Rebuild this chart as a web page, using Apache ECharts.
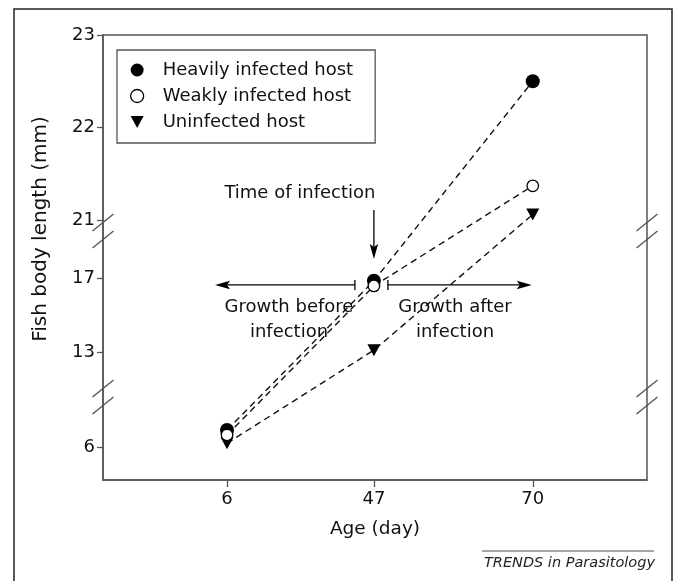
<!DOCTYPE html>
<html><head><meta charset="utf-8">
<script src="https://cdn.jsdelivr.net/npm/echarts@6/dist/echarts.min.js"></script>
<style>html,body{margin:0;padding:0;background:#fff}#c{width:676px;height:581px}</style>
</head><body><div id="c"></div>
<script>
// ---- data ----
const ages = [6, 47, 70];
const heavily = [6.92, 16.85, 22.5];
const weakly = [6.65, 16.57, 21.37];
const uninfected = [6.2, 13.1, 21.06];
const yTicks = [6, 13, 17, 21, 22, 23];
const seriesNames = ['Heavily infected host', 'Weakly infected host', 'Uninfected host'];

// ---- broken-axis scale (layout) ----
const X_SLOTS = [22.8, 49.8, 79.0];          // axis position (0-100) of each age
const Y_PIECES = [                           // [upper value limit, ref value, ref pos, pos per mm]
  [9.5, 6, 33, 18.5],
  [20, 13, 128, 18.5],
  [Infinity, 21, 260, 92.5]
];
const Y_BREAKS = [83, 249];                  // axis positions of the break marks
function yPos(v) { for (const p of Y_PIECES) if (v < p[0]) return p[2] + (v - p[1]) * p[3]; }
function xPos(a) { return X_SLOTS[ages.indexOf(a)]; }
const yLabelMap = new Map(yTicks.map(t => [yPos(t).toFixed(2), String(t)]));
const xLabelMap = new Map(ages.map(a => [xPos(a).toFixed(2), String(a)]));

const FONT = 'DejaVu Sans';
const TXT = '#111';
const AX = '#555';
const TRI = 'path://M0,0L12,0L6,11Z';

function toData(vals) { return ages.map((a, i) => [xPos(a), yPos(vals[i])]); }

const chart = echarts.init(document.getElementById('c'), null, { renderer: 'canvas' });
const line = { color: '#111', width: 1.4, type: [6.5, 4.5] };
chart.setOption({
  animation: false,
  backgroundColor: '#fff',
  grid: { left: 103, right: 29, top: 35, bottom: 101, show: true, borderColor: AX, borderWidth: 1.5 },
  xAxis: {
    type: 'value', min: 0, max: 100,
    name: 'Age (day)', nameLocation: 'middle', nameGap: 40,
    nameTextStyle: { fontFamily: FONT, fontSize: 18.5, color: TXT },
    axisLine: { show: true, lineStyle: { color: AX, width: 1.5 } },
    axisTick: { show: true, length: 7, lineStyle: { color: AX, width: 1.3 }, customValues: ages.map(xPos) },
    axisLabel: { fontFamily: FONT, fontSize: 18, color: TXT, margin: 10, customValues: ages.map(xPos),
      formatter: v => xLabelMap.get(v.toFixed(2)) || '' },
    splitLine: { show: false }
  },
  yAxis: {
    type: 'value', min: 0, max: 445,
    axisLine: { show: true, lineStyle: { color: AX, width: 1.5 } },
    axisTick: { show: true, length: 6, lineStyle: { color: AX, width: 1.3 }, customValues: yTicks.map(yPos) },
    axisLabel: { fontFamily: FONT, fontSize: 18, color: TXT, margin: 8, customValues: yTicks.map(yPos),
      formatter: v => yLabelMap.get(v.toFixed(2)) || '' },
    splitLine: { show: false }
  },
  legend: {
    orient: 'vertical', left: 117, top: 50,
    padding: [11, 22, 12, 13],
    itemWidth: 13, itemHeight: 13, itemGap: 8,
    borderColor: AX, borderWidth: 1.3, backgroundColor: '#fff',
    selectedMode: false,
    textStyle: { fontFamily: FONT, fontSize: 18, color: TXT, padding: [0, 0, 0, 14] },
    data: [
      { name: seriesNames[0], icon: 'circle', itemStyle: { color: '#000' } },
      { name: seriesNames[1], icon: 'circle', itemStyle: { color: '#fff', borderColor: '#000', borderWidth: 1.3 } },
      { name: seriesNames[2], icon: TRI, itemStyle: { color: '#000' } }
    ]
  },
  series: [
    { name: seriesNames[0], type: 'line', data: toData(heavily), symbol: 'circle', symbolSize: 14,
      lineStyle: line, itemStyle: { color: '#000' }, z: 3 },
    { name: seriesNames[1], type: 'line', data: toData(weakly), symbol: 'circle', symbolSize: 11.5,
      lineStyle: line, itemStyle: { color: '#fff', borderColor: '#000', borderWidth: 1.3 }, z: 4 },
    { name: seriesNames[2], type: 'line', data: toData(uninfected), symbol: TRI, symbolSize: [13, 12],
      lineStyle: line, itemStyle: { color: '#000' }, z: 2 }
  ]
});

// ---- decorations: break marks, annotations, frame ----
const px = (x, y) => chart.convertToPixel({ gridIndex: 0 }, [x, y]);
const g = [];
g.push({ type: 'rect', shape: { x: 14, y: 9, width: 658, height: 620 }, style: { fill: null, stroke: '#222', lineWidth: 1.5 }, silent: true });
for (const b of Y_BREAKS) {
  for (const xv of [0, 100]) {
    const [cx, cy] = px(xv, b);
    for (const off of [-8.5, 8.5]) {
      g.push({ type: 'line', shape: { x1: cx - 10.5, y1: cy + off + 8.5, x2: cx + 10.5, y2: cy + off - 8.5 },
        style: { stroke: AX, lineWidth: 1.4 }, z: 10 });
    }
  }
}
const [ax, ay] = px(xPos(47), yPos(weakly[1]));
const [x6] = px(xPos(6), 0);
const [x70] = px(xPos(70), 0);
function arrowHead(tx, ty, dx, dy) { // tip at (tx,ty), pointing along (dx,dy)
  const L = 15, W = 4.2, n = 3;
  const bx = tx - dx * L, by = ty - dy * L;
  return { type: 'polygon', shape: { points: [[tx, ty], [bx - dy * W, by + dx * W], [tx - dx * (L - n), ty - dy * (L - n)], [bx + dy * W, by - dx * W]] },
    style: { fill: '#000' }, z: 10 };
}
const stroke = { stroke: '#000', lineWidth: 1.3 };
// time of infection arrow
g.push({ type: 'line', shape: { x1: ax, y1: ay - 76, x2: ax, y2: ay - 38 }, style: stroke, z: 10 });
g.push(arrowHead(ax, ay - 27, 0, 1));
g.push({ type: 'text', style: { text: 'Time of infection', x: ax - 74, y: ay - 93, align: 'center', verticalAlign: 'middle',
  font: '18px "' + FONT + '"', fill: TXT }, z: 10 });
// growth before
const hy = ay - 1;
const tipL = x6 - 12, tipR = x70 - 1;
g.push({ type: 'line', shape: { x1: ax - 19, y1: hy, x2: tipL + 10, y2: hy }, style: stroke, z: 10 });
g.push({ type: 'line', shape: { x1: ax - 19, y1: hy - 5, x2: ax - 19, y2: hy + 5 }, style: stroke, z: 10 });
g.push(arrowHead(tipL, hy, -1, 0));
g.push({ type: 'text', style: { text: 'Growth before\ninfection', x: 289, y: 320, align: 'center', verticalAlign: 'middle',
  lineHeight: 25, font: '18px "' + FONT + '"', fill: TXT }, z: 10 });
// growth after
g.push({ type: 'line', shape: { x1: ax + 14, y1: hy, x2: tipR - 10, y2: hy }, style: stroke, z: 10 });
g.push({ type: 'line', shape: { x1: ax + 14, y1: hy - 5, x2: ax + 14, y2: hy + 5 }, style: stroke, z: 10 });
g.push(arrowHead(tipR, hy, 1, 0));
g.push({ type: 'text', style: { text: 'Growth after\ninfection', x: 455, y: 320, align: 'center', verticalAlign: 'middle',
  lineHeight: 25, font: '18px "' + FONT + '"', fill: TXT }, z: 10 });
// y axis title
g.push({ type: 'text', x: 41, y: 229, rotation: Math.PI / 2,
  style: { text: 'Fish body length (mm)', x: 0, y: 0, align: 'center', verticalAlign: 'middle', font: '20px "' + FONT + '"', fill: TXT } });
// credit
g.push({ type: 'line', shape: { x1: 482, y1: 551, x2: 654, y2: 551 }, style: { stroke: '#888', lineWidth: 1.5 } });
g.push({ type: 'text', style: { text: 'TRENDS in Parasitology', x: 655, y: 563, align: 'right', verticalAlign: 'middle',
  font: 'italic 14.5px "' + FONT + '"', fill: '#222' } });
chart.setOption({ graphic: { elements: g } });
</script></body></html>
